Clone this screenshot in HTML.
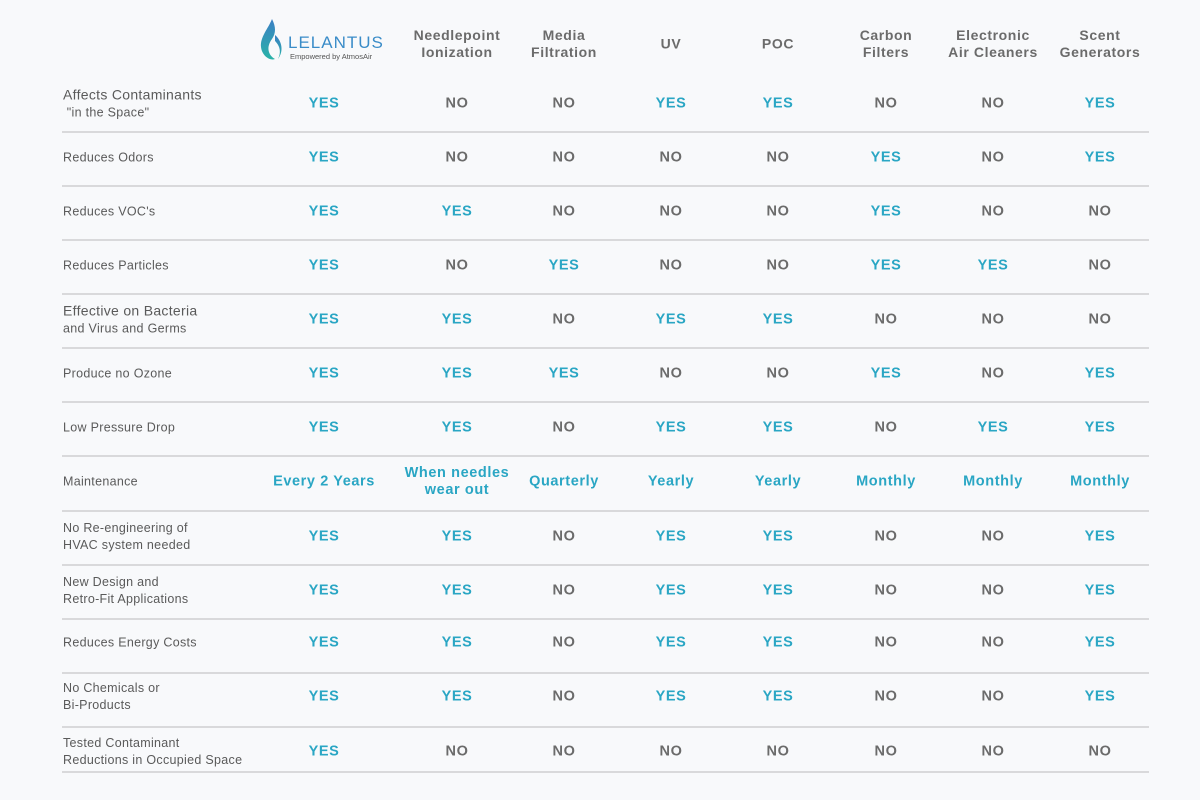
<!DOCTYPE html>
<html><head><meta charset="utf-8"><style>
body{margin:0;width:1200px;height:800px;background:#f8f9fb;font-family:"Liberation Sans",sans-serif;position:relative;overflow:hidden}
.c{position:absolute;transform:translate(-50%,-50%);text-align:center;font-weight:bold;font-size:14.5px;letter-spacing:0.6px;white-space:nowrap;line-height:17px}
.y{color:#2aa6c4}.n{color:#6b6b6b}
.h{color:#6b6b6b;font-size:14px;line-height:17px}
.l{position:absolute;left:63px;color:#5a5a5a;font-size:12.5px;line-height:17px;transform:translateY(-50%);letter-spacing:0.3px}
.hr{position:absolute;left:62px;width:1087px;height:1.5px;background:#d9d9db}
</style></head><body>
<div style="position:absolute;left:260px;top:19px">
<svg width="24" height="42" viewBox="0 0 24 42"><defs><linearGradient id="g" x1="0" y1="0" x2="0" y2="1"><stop offset="0" stop-color="#3b7fc4"/><stop offset="1" stop-color="#2ab3a8"/></linearGradient></defs><path d="M12 0 C8 10 0 18 1 28 C2 37 10 42 15 40 C8 36 6 28 12 20 C16 14 16 8 12 0Z" fill="url(#g)"/><path d="M15 16 C22 22 24 32 18 40 C22 32 19 26 15 22Z" fill="url(#g)"/></svg>
</div>
<div style="position:absolute;left:288px;top:33px;color:#3a8cc8;font-size:17px;letter-spacing:1px">LELANTUS</div>
<div style="position:absolute;left:290px;top:52px;color:#555;font-size:7.5px">Empowered by AtmosAir</div>
<div class="c h" style="left:457px;top:44px">Needlepoint<br>Ionization</div>
<div class="c h" style="left:564px;top:44px">Media<br>Filtration</div>
<div class="c h" style="left:671px;top:44px">UV</div>
<div class="c h" style="left:778px;top:44px">POC</div>
<div class="c h" style="left:886px;top:44px">Carbon<br>Filters</div>
<div class="c h" style="left:993px;top:44px">Electronic<br>Air Cleaners</div>
<div class="c h" style="left:1100px;top:44px">Scent<br>Generators</div>
<div id="t"></div>
<script>
var cols=[324,457,564,671,778,886,993,1100];
var rows=[
["<span style='font-size:14px'>Affects Contaminants</span><br>&nbsp;\"in the Space\"","YNNYYNNY",104],
["Reduces Odors","YNNNNYNY",158],
["Reduces VOC's","YYNNNYNN",212],
["Reduces Particles","YNYNNYYN",266],
["<span style='font-size:14px'>Effective on Bacteria</span><br>and Virus and Germs","YYNYYNNN",320],
["Produce no Ozone","YYYNNYNY",374],
["Low Pressure Drop","YYNYYNYY",428],
["Maintenance","M",482],
["No Re-engineering of<br>HVAC system needed","YYNYYNNY",537],
["New Design and<br>Retro-Fit Applications","YYNYYNNY",591],
["Reduces Energy Costs","YYNYYNNY",643],
["No Chemicals or<br>Bi-Products","YYNYYNNY",697],
["Tested Contaminant<br>Reductions in Occupied Space","YNNNNNNN",752]];
var lines=[131,185,239,293,347,401,455,510,564,618,672,726,771];
var m=["Every 2 Years","When needles<br>wear out","Quarterly","Yearly","Yearly","Monthly","Monthly","Monthly"];
var h="";
rows.forEach(function(r){
h+="<div class='l' style='top:"+r[2]+"px'>"+r[0]+"</div>";
for(var i=0;i<8;i++){
 if(r[1]=="M") h+="<div class='c y' style='left:"+cols[i]+"px;top:"+r[2]+"px'>"+m[i]+"</div>";
 else {var y=r[1][i]=="Y";h+="<div class='c "+(y?"y":"n")+"' style='left:"+cols[i]+"px;top:"+r[2]+"px'>"+(y?"YES":"NO")+"</div>";}
}});
lines.forEach(function(y){h+="<div class='hr' style='top:"+y+"px'></div>";});
document.getElementById("t").innerHTML=h;
</script>
</body></html>
